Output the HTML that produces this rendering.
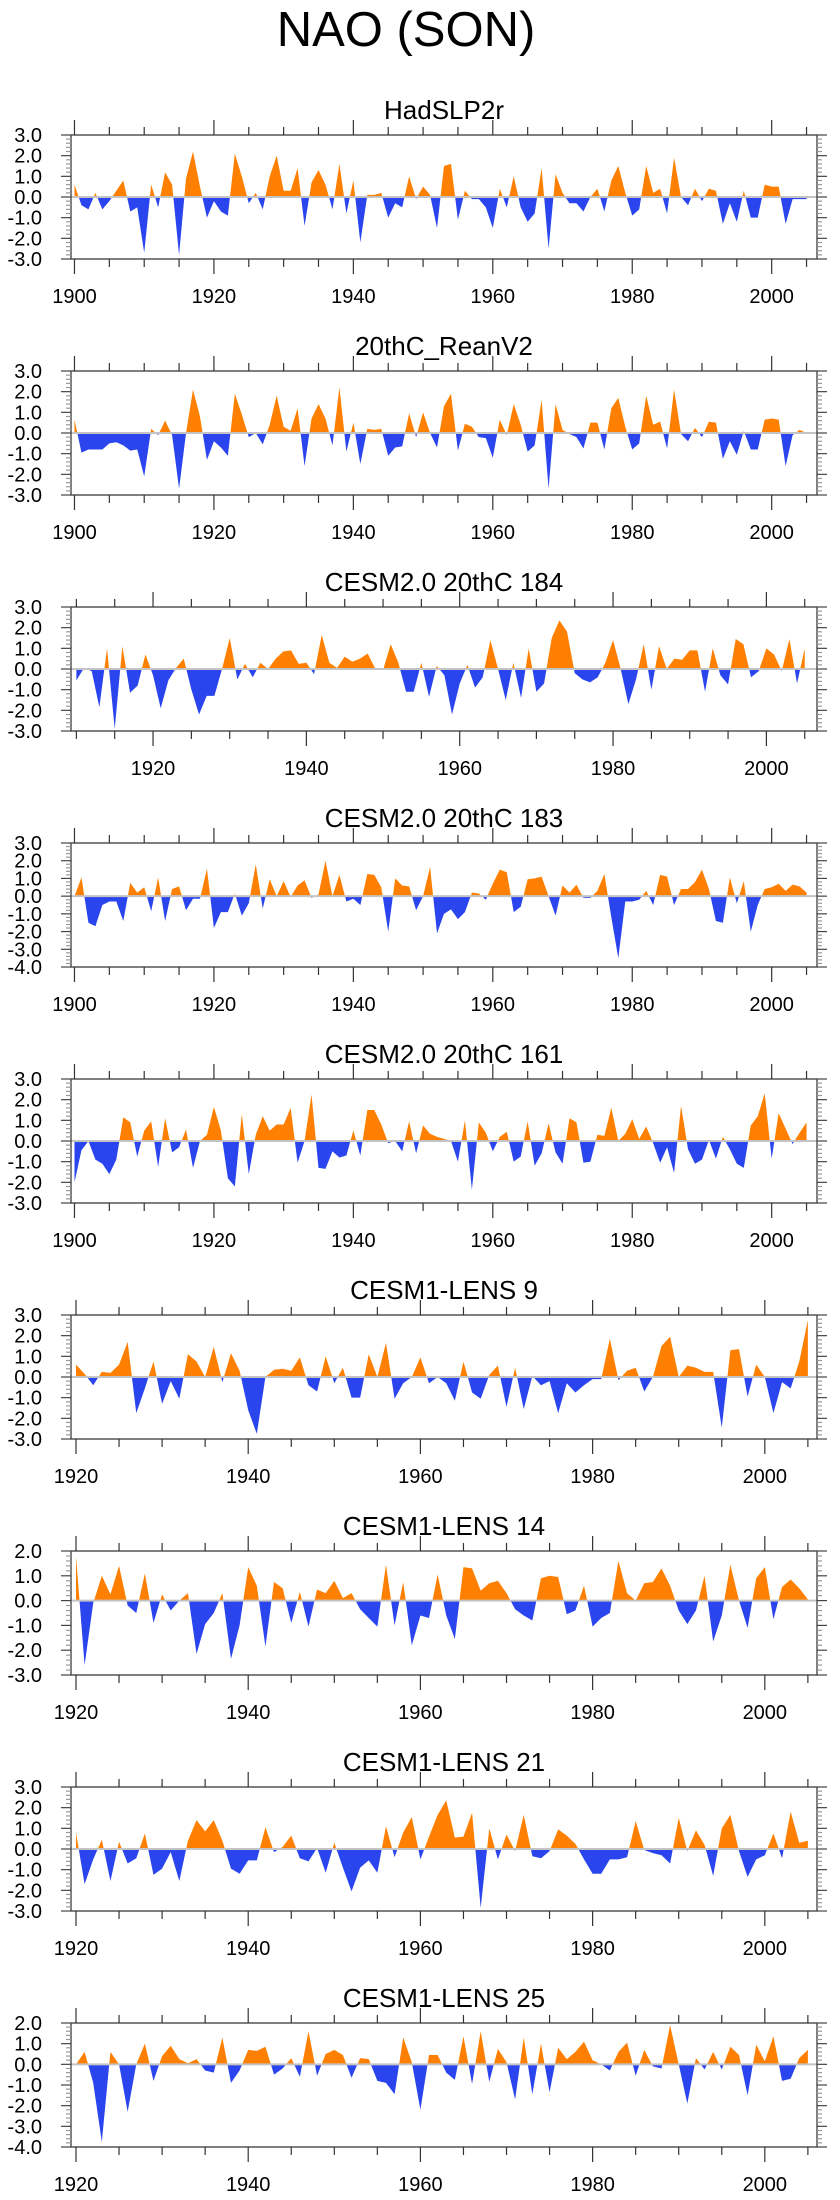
<!DOCTYPE html>
<html><head><meta charset="utf-8"><title>NAO (SON)</title>
<style>
html,body{margin:0;padding:0;background:#fff;}
svg{display:block;font-family:"Liberation Sans",Arial,sans-serif;}
</style></head>
<body>
<svg id="chart" width="840" height="2200" viewBox="0 0 840 2200" xmlns="http://www.w3.org/2000/svg">
<text x="406" y="46" font-size="49" text-anchor="middle" fill="#000">NAO (SON)</text>
</svg>
<script>
const panelTitles = ["HadSLP2r","20thC_ReanV2","CESM2.0 20thC 184","CESM2.0 20thC 183","CESM2.0 20thC 161","CESM1-LENS 9","CESM1-LENS 14","CESM1-LENS 21","CESM1-LENS 25"];
const startYears = [1900,1900,1910,1900,1900,1920,1920,1920,1920];
const yMins = [-3,-3,-3,-4,-3,-3,-3,-3,-4];
const yMaxs = [3,3,3,3,3,3,2,3,2];

const hadslp2r = [0.6,-0.4,-0.6,0.2,-0.6,-0.2,0.3,0.8,-0.7,-0.5,-2.7,0.6,-0.5,1.2,0.6,-2.8,0.9,2.2,0.5,-1.0,-0.2,-0.7,-0.9,2.1,1.0,-0.3,0.2,-0.6,1.0,2.0,0.3,0.3,1.4,-1.4,0.7,1.3,0.6,-0.6,1.6,-0.8,0.8,-2.2,0.1,0.1,0.2,-1.0,-0.3,-0.5,1.0,-0.1,0.5,0.1,-1.5,1.5,1.6,-1.1,0.3,-0.1,-0.1,-0.5,-1.5,0.4,-0.5,1.0,-0.5,-1.2,-0.8,1.4,-2.5,1.1,0.2,-0.3,-0.3,-0.7,0.0,0.4,-0.7,0.8,1.5,0.2,-0.9,-0.6,1.5,0.2,0.4,-0.8,1.9,0.0,-0.4,0.4,-0.2,0.4,0.3,-1.3,-0.3,-1.2,0.3,-1.0,-1.0,0.6,0.5,0.5,-1.3,-0.1,-0.1,-0.1];
const rean20c = [0.65,-0.95,-0.8,-0.8,-0.8,-0.5,-0.45,-0.6,-0.85,-0.8,-2.1,0.2,-0.1,0.6,-0.1,-2.7,0.0,2.1,0.8,-1.3,-0.4,-0.7,-1.1,1.9,0.9,-0.2,0.0,-0.55,0.4,1.8,0.3,0.1,1.2,-1.6,0.7,1.4,0.7,-0.6,2.2,-0.9,0.5,-1.5,0.2,0.15,0.2,-1.1,-0.7,-0.65,0.95,-0.2,1.0,0.0,-0.7,1.3,1.9,-0.85,0.45,0.3,-0.2,-0.25,-1.2,0.65,-0.1,1.4,0.4,-0.9,-0.6,1.6,-2.7,1.4,0.15,-0.05,-0.2,-0.75,0.5,0.5,-0.8,1.2,1.7,0.3,-0.8,-0.5,1.8,0.4,0.55,-0.75,2.1,-0.05,-0.4,0.25,-0.2,0.55,0.5,-1.25,-0.4,-1.05,0.1,-0.8,-0.8,0.65,0.7,0.65,-1.6,-0.1,0.15,0.0];
const cesm184 = [-0.55,0.05,-0.1,-1.85,1.0,-2.9,1.1,-1.15,-0.8,0.7,-0.3,-1.9,-0.55,0.05,0.5,-1.0,-2.2,-1.3,-1.3,0.0,1.5,-0.5,0.25,-0.4,0.3,0.0,0.5,0.85,0.9,0.25,0.3,-0.25,1.65,0.3,0.05,0.6,0.35,0.5,0.75,0.0,-0.05,1.2,0.3,-1.1,-1.1,0.3,-1.35,0.15,-0.3,-2.2,-0.7,0.2,-0.9,-0.4,1.4,0.0,-1.5,0.3,-1.4,1.0,-1.1,-0.7,1.5,2.35,1.8,-0.2,-0.5,-0.65,-0.4,0.3,1.4,0.0,-1.7,-0.5,1.2,-1.0,1.1,0.0,0.5,0.45,0.9,0.9,-1.1,1.0,-0.3,-0.75,1.45,1.2,-0.4,-0.1,1.0,0.7,-0.1,1.45,-0.7,1.0];
const cesm183 = [0.0,1.05,-1.5,-1.7,-0.5,-0.3,-0.3,-1.4,0.75,0.2,0.5,-0.85,1.05,-1.4,0.4,0.55,-0.8,-0.15,-0.15,1.55,-1.8,-0.9,-0.9,0.15,-1.1,-0.4,1.8,-0.7,0.95,0.0,0.85,-0.05,0.6,0.9,-0.1,0.1,2.0,0.0,1.2,-0.3,-0.15,-0.5,1.25,1.2,0.5,-2.0,1.0,0.6,0.55,-0.8,0.0,1.65,-2.1,-1.0,-0.75,-1.3,-0.9,0.2,0.15,-0.2,0.7,1.5,1.35,-0.9,-0.6,0.95,1.0,1.1,0.0,-1.1,0.6,0.2,0.65,-0.1,-0.1,0.3,1.25,-1.2,-3.5,-0.3,-0.3,-0.2,0.3,-0.5,1.2,1.1,-0.5,0.4,0.4,0.8,1.5,0.4,-1.4,-1.5,1.05,-0.4,0.85,-2.0,-0.5,0.4,0.5,0.7,0.3,0.65,0.55,0.2];
const cesm161 = [-2.0,-0.45,0.0,-0.9,-1.1,-1.6,-0.9,1.15,0.9,-0.75,0.5,0.95,-1.25,1.1,-0.55,-0.3,0.55,-1.3,0.0,0.3,1.65,0.5,-1.8,-2.2,1.3,-1.6,0.3,1.2,0.5,0.8,0.8,1.6,-1.05,0.0,2.25,-1.3,-1.35,-0.5,-0.8,-0.7,0.5,-0.7,1.5,1.5,0.8,-0.1,0.0,-0.5,0.95,-0.6,0.75,0.35,0.2,0.1,0.0,-1.0,1.0,-2.35,0.9,0.4,-0.5,0.2,0.45,-1.0,-0.75,0.95,-1.2,-0.6,0.85,-0.55,-1.1,1.1,0.9,-1.05,-1.0,0.3,0.25,1.6,0.0,0.35,1.05,0.1,0.7,-0.1,-1.05,-0.3,-1.55,1.7,-0.4,-1.1,-0.9,0.05,-0.85,0.2,-0.4,-1.1,-1.3,0.75,1.2,2.3,-0.85,1.35,0.6,-0.15,0.4,0.9];
const lens9 = [0.6,0.15,-0.4,0.25,0.2,0.6,1.7,-1.75,-0.55,0.75,-1.3,-0.2,-1.05,1.1,0.75,0.0,1.45,-0.25,1.15,0.3,-1.6,-2.75,0.0,0.35,0.4,0.3,0.95,-0.4,-0.7,1.0,-0.3,0.45,-1.0,-1.0,1.1,0.0,1.65,-1.05,-0.3,0.0,0.95,-0.3,0.0,-0.3,-1.15,0.75,-0.75,-1.05,0.1,0.55,-1.45,0.45,-1.55,0.05,-0.4,-0.2,-1.75,-0.3,-0.75,-0.4,-0.1,-0.1,1.85,-0.15,0.3,0.45,-0.7,0.0,1.5,1.95,0.0,0.55,0.45,0.25,0.25,-2.45,1.3,1.35,-0.95,0.6,0.0,-1.75,-0.25,-0.55,0.75,2.75];
const lens14 = [1.8,-2.6,-0.1,1.0,0.25,1.4,-0.2,-0.5,1.1,-0.9,0.25,-0.4,0.0,0.3,-2.15,-0.95,-0.5,0.3,-2.35,-1.0,1.35,0.6,-1.85,0.75,0.5,-0.9,0.35,-1.05,0.45,0.3,0.8,0.1,0.3,-0.35,-0.7,-1.05,1.45,-1.0,0.75,-1.8,-0.6,-0.7,1.05,-0.6,-1.55,1.35,1.3,0.4,0.7,0.8,0.3,-0.35,-0.6,-0.8,0.9,1.0,0.95,-0.55,-0.4,0.6,-1.05,-0.7,-0.5,1.6,0.3,0.0,0.7,0.75,1.3,0.6,-0.4,-0.95,-0.4,1.0,-1.65,-0.6,1.45,0.0,-1.1,0.9,1.35,-0.75,0.55,0.85,0.5,0.05];
const lens21 = [0.8,-1.7,-0.5,0.45,-1.55,0.35,-0.7,-0.45,0.75,-1.25,-0.95,-0.15,-1.55,0.4,1.4,0.85,1.4,0.4,-0.95,-1.2,-0.55,-0.55,1.05,-0.15,0.1,0.65,-0.45,-0.6,0.05,-1.15,0.3,-0.9,-2.05,-0.9,-0.55,-1.15,1.1,-0.4,0.8,1.55,-0.5,0.6,1.65,2.35,0.55,0.6,1.75,-2.85,1.0,-0.5,0.7,-0.1,1.65,-0.35,-0.45,-0.1,0.95,0.65,0.25,-0.5,-1.2,-1.2,-0.5,-0.5,-0.4,1.35,-0.05,-0.2,-0.3,-0.7,1.5,-0.1,0.9,0.2,-1.3,1.0,1.65,-0.1,-1.35,-0.5,-0.3,0.75,-0.45,1.8,0.3,0.4];
const lens25 = [0.0,0.6,-0.9,-3.75,0.6,0.0,-2.3,0.0,1.0,-0.8,0.4,0.9,0.25,0.05,0.25,-0.3,-0.4,1.3,-0.9,-0.3,0.7,0.65,0.85,-0.5,-0.2,0.3,-0.6,1.6,-0.55,0.5,0.7,0.45,-0.65,0.3,0.25,-0.8,-0.9,-1.45,1.3,0.1,-2.2,0.45,0.45,-0.4,-0.75,1.35,-0.95,1.6,-0.85,0.75,0.1,-1.7,1.3,-1.45,1.0,-1.35,0.8,0.25,0.6,1.1,0.2,0.0,-0.3,0.6,1.05,-0.55,0.7,-0.1,-0.2,1.9,0.0,-1.9,0.3,-0.25,0.6,-0.25,0.85,0.45,-1.5,0.95,0.15,1.35,-0.8,-0.7,0.3,0.7];
const seriesList = [hadslp2r, rean20c, cesm184, cesm183, cesm161, lens9, lens14, lens21, lens25];

const NS = "http://www.w3.org/2000/svg";
const svg = document.getElementById("chart");
const TOP0 = 135, STEP = 236, PH = 124, PL = 71, PR = 817;

function mk(tag, attrs, parent) {
  const e = document.createElementNS(NS, tag);
  for (const k in attrs) e.setAttribute(k, attrs[k]);
  (parent || svg).appendChild(e);
  return e;
}

function xDomain(i) {
  const s = startYears[i];
  if (s === 1900) return [1899.5, 2006.5];
  if (s === 1910) return [1909.3, 2006.6];
  return [1919.42, 2006.06];
}

seriesList.forEach(function (vals, i) {
  const top = TOP0 + STEP * i, bot = top + PH;
  const [x0, x1] = xDomain(i);
  const ymin = yMins[i], ymax = yMaxs[i];
  const xs = function (yr) { return PL + (yr - x0) / (x1 - x0) * (PR - PL); };
  const ys = function (v) { return bot - (v - ymin) / (ymax - ymin) * PH; };
  const zy = ys(0);

  const g = mk("g", {});
  
  

  const t = mk("text", {x: 444, y: top - 16, "font-size": 26, "text-anchor": "middle", fill: "#000"}, g);
  
  
  t.textContent = panelTitles[i];

  // clip paths
  const defs = mk("defs", {}, g);
  const cpA = mk("clipPath", {id: "ca" + i}, defs);
  mk("rect", {x: PL, y: top, width: PR - PL, height: zy - top}, cpA);
  const cpB = mk("clipPath", {id: "cb" + i}, defs);
  mk("rect", {x: PL, y: zy, width: PR - PL, height: bot - zy}, cpB);

  const s = startYears[i];
  let pts = xs(s).toFixed(2) + "," + zy.toFixed(2) + " ";
  vals.forEach(function (v, k) { pts += xs(s + k).toFixed(2) + "," + ys(v).toFixed(2) + " "; });
  pts += xs(s + vals.length - 1).toFixed(2) + "," + zy.toFixed(2);

  const pa = mk("polygon", {points: pts, fill: "#ff8000", "clip-path": "url(#ca" + i + ")"}, g);
  
  
  const pb = mk("polygon", {points: pts, fill: "#2a45ee", "clip-path": "url(#cb" + i + ")"}, g);
  
  

  const zl = mk("line", {x1: PL, x2: PR, y1: zy, y2: zy, stroke: "#c4c4c4", "stroke-width": 2}, g);
  
  

  const box = mk("rect", {x: PL, y: top, width: PR - PL, height: PH, fill: "none", stroke: "#555", "stroke-width": 1.5}, g);
  
  

  // x ticks
  for (let yr = Math.ceil(x0 / 5) * 5; yr <= x1; yr += 5) {
    const x = xs(yr), major = yr % 20 === 0, len = major ? 15 : 8;
    mk("line", {x1: x, x2: x, y1: top, y2: top - len, stroke: "#333", "stroke-width": 1.2}, g);
    mk("line", {x1: x, x2: x, y1: bot, y2: bot + len, stroke: "#333", "stroke-width": 1.2}, g);
    if (major) {
      const lb = mk("text", {x: x, y: bot + 44, "font-size": 20, "text-anchor": "middle", fill: "#000"}, g);
      
      
      lb.textContent = yr;
    }
  }
  // y ticks
  for (let k = Math.round(ymin * 5); k <= Math.round(ymax * 5); k++) {
    const v = k / 5, y = ys(v), major = k % 5 === 0, len = major ? 10 : 5;
    const col = major ? "#444" : "#999";
    mk("line", {x1: PL, x2: PL - len, y1: y, y2: y, stroke: col, "stroke-width": 1.2}, g);
    mk("line", {x1: PR, x2: PR + len, y1: y, y2: y, stroke: col, "stroke-width": 1.2}, g);
    if (major) {
      const lb = mk("text", {x: 42, y: y + 7, "font-size": 20, "text-anchor": "end", fill: "#000"}, g);
      
      
      lb.textContent = v.toFixed(1);
    }
  }
});
</script>
</body></html>
